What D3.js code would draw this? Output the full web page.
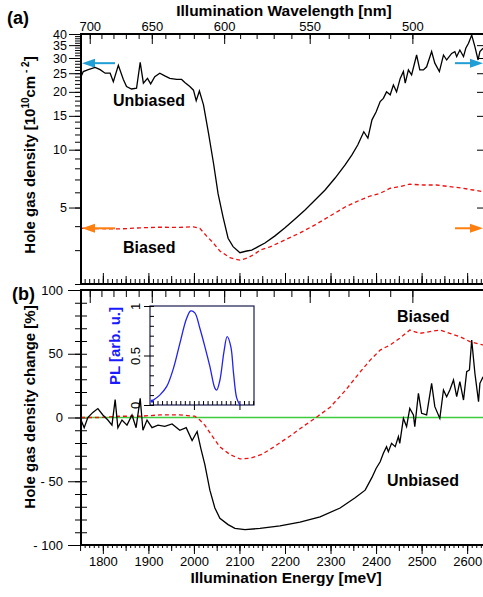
<!DOCTYPE html>
<html>
<head>
<meta charset="utf-8">
<script src="https://cdnjs.cloudflare.com/ajax/libs/d3/7.8.5/d3.min.js"></script>
<style>
  body { margin: 0; background: #fff; }
  svg { display: block; font-family: "Liberation Sans", Arial, sans-serif; }
</style>
</head>
<body>
<div class="chart"></div>
<script>
// panel (a): hole gas density [1e10 cm^-2] vs illumination energy [meV]
var unbiasedEnergy = [1752, 1757, 1768, 1783, 1794, 1805, 1816, 1823, 1834, 1845, 1852, 1863, 1874, 1882, 1889,
  1898, 1905, 1914, 1925, 1936, 1947, 1962, 1973, 1980, 1991, 1999, 2005, 2012, 2021, 2032, 2043, 2053, 2064,
  2075, 2086, 2101, 2116, 2127, 2141, 2156, 2178, 2200, 2222, 2244, 2266, 2288, 2310, 2332, 2347, 2360, 2373,
  2382, 2391, 2400, 2409, 2416, 2423, 2431, 2438, 2445, 2453, 2460, 2464, 2471, 2478, 2489, 2496, 2504, 2511,
  2522, 2529, 2539, 2548, 2555, 2566, 2573, 2577, 2584, 2592, 2597, 2603, 2610, 2617, 2624, 2628, 2635];
var unbiasedDensity = [24.0, 25.5, 26.1, 26.8, 26.1, 25.0, 25.0, 22.6, 27.5, 23.2, 21.3, 20.7, 20.9, 28.5, 22.2,
  23.5, 22.0, 24.0, 25.0, 24.2, 23.5, 23.2, 23.2, 22.4, 21.3, 20.4, 18.0, 20.2, 17.1, 12.2, 8.5, 5.9, 4.46,
  3.46, 3.13, 2.91, 2.97, 3.00, 3.13, 3.27, 3.56, 3.92, 4.36, 4.86, 5.47, 6.17, 7.12, 8.33, 9.39, 10.6, 12.4,
  11.5, 14.3, 15.7, 17.8, 18.5, 20.0, 19.3, 21.7, 20.0, 23.5, 25.5, 22.2, 26.0, 24.5, 31.1, 26.0, 26.0, 27.0,
  32.4, 28.2, 25.5, 31.1, 29.3, 31.7, 32.4, 30.5, 33.0, 30.5, 33.7, 35.8, 39.5, 34.4, 29.3, 32.4, 33.7];

var biasedEnergy = [1752, 1794, 1838, 1882, 1925, 1969, 1999, 2013, 2028, 2043, 2057, 2079, 2101, 2119, 2134,
  2145, 2167, 2200, 2233, 2266, 2299, 2332, 2365, 2387, 2409, 2431, 2452, 2474, 2504, 2533, 2562, 2591, 2613, 2635];
var biasedDensity = [3.90, 3.88, 3.87, 3.92, 3.95, 3.94, 3.97, 3.90, 3.55, 3.26, 2.97, 2.74, 2.66, 2.74, 2.87,
  3.00, 3.12, 3.39, 3.69, 4.06, 4.52, 5.03, 5.47, 5.74, 5.93, 6.30, 6.42, 6.61, 6.55, 6.55, 6.42, 6.30, 6.17, 6.05];

// dark levels marked by the arrows (unbiased, biased)
var darkDensity = [28.2, 3.9];

// panel (b): hole gas density change [%]
var unbiasedChangeEnergy = [1752, 1759, 1767, 1778, 1789, 1800, 1811, 1820, 1827, 1833, 1842, 1853, 1864, 1873,
  1882, 1888, 1897, 1908, 1921, 1936, 1952, 1969, 1983, 1996, 2007, 2015, 2024, 2035, 2046, 2057, 2075, 2090,
  2112, 2145, 2189, 2233, 2277, 2321, 2354, 2376, 2391, 2400, 2409, 2416, 2423, 2427, 2434, 2442, 2449, 2452,
  2460, 2467, 2474, 2482, 2485, 2493, 2500, 2511, 2522, 2529, 2540, 2548, 2555, 2562, 2570, 2577, 2584, 2592,
  2599, 2605, 2610, 2617, 2625, 2628, 2635];
var unbiasedChange = [-2, -8, 0, 4, 7, 2, -2, -6, 14, -8, -2, -6, 2, -8,
  15, -10, -2, -8, -6, -7, -5, -10, -8, -18, -11, -24, -37, -57, -71, -79, -84, -87,
  -88, -87, -85, -82, -78, -71, -63, -57, -47, -40, -34.7, -28.1, -22.9, -26.8, -20.3, -22.9, -15.0, -20.3,
  -0.7, -7.2, 7.2, 2.0, -7.2, 19.0, 3.3, 2.0, 26.8, 8.5, -0.7, 21.6, 16.3, 21.6, 29.4, 16.3, 28.1, 13.7,
  35.9, 37.3, 60.8, 34.7, 12.4, 26.8, 32.0];

var biasedChangeEnergy = [1752, 1794, 1838, 1882, 1925, 1969, 2002, 2013, 2024, 2040, 2057, 2079, 2101, 2123,
  2149, 2178, 2211, 2244, 2272, 2299, 2332, 2365, 2387, 2409, 2431, 2452, 2474, 2496, 2518, 2540, 2562, 2584, 2606, 2635];
var biasedChange = [0, 0, 1, 1, 2, 2, 1, -2, -6, -14.5, -23, -29, -32.5, -32,
  -29, -22.5, -14.5, -6, 1, 8, 21, 35.7, 45, 52.9, 56.9, 62.1, 68.6, 66, 67.3, 68.6, 66, 63.4, 59.5, 56.9];

// inset: photoluminescence spectrum
var plEnergy = [1908, 1925, 1940, 1955, 1969, 1984, 1993, 2002, 2013, 2024, 2035, 2046, 2050, 2057, 2066,
  2073, 2081, 2087, 2094, 2101];
var plIntensity = [0.04, 0.10, 0.185, 0.37, 0.62, 0.876, 0.95, 0.93, 0.775, 0.59, 0.39, 0.17, 0.15, 0.25, 0.54,
  0.69, 0.59, 0.32, 0.07, 0.0];

// tick labels
var densityTicks = [5, 10, 15, 20, 25, 30, 35, 40];
var changeTicks = [-100, -50, 0, 50, 100];
var energyTicks = [1800, 1900, 2000, 2100, 2200, 2300, 2400, 2500, 2600];
var wavelengthTicks = [700, 650, 600, 550, 500];
var plTicks = [0, 0.5, 1];

var svgWidth = 483;
var svgHeight = 597;
var left = 81, right = 484;
var topA = 34, bottomA = 284;
var topB = 290, bottomB = 545;
var hc = 1239842; // meV * nm

var svg = d3.select('.chart')
  .append('svg')
  .attr('width', svgWidth)
  .attr('height', svgHeight);

var x = d3.scaleLinear().domain([1752, 2637]).range([left, right]);
var yA = d3.scaleLog().domain([2, 40]).range([bottomA, topA]);
var yB = d3.scaleLinear().domain([-100, 100]).range([bottomB, topB]);

function strip(g) {
  g.select('.domain').remove();
  g.selectAll('line').attr('stroke', '#000').attr('stroke-width', 1);
  g.selectAll('text').attr('fill', '#000');
  g.attr('font-family', '"Liberation Sans", Arial, sans-serif').attr('font-size', 13);
}

// tick helpers
var minorEnergy = d3.range(1760, 2640, 10);
var midEnergy = d3.range(1750, 2640, 50);
var minorWave = d3.range(500, 720, 10).map(function(w) { return hc / w; })
  .filter(function(e) { return e >= 1752 && e <= 2637; });
var wavelengthEnergy = wavelengthTicks.map(function(w) { return hc / w; });

// ---------- panel (a) ----------
svg.append('defs').append('clipPath').attr('id', 'clipA')
  .append('rect').attr('x', left).attr('y', topA).attr('width', right - left).attr('height', bottomA - topA);
svg.select('defs').append('clipPath').attr('id', 'clipB')
  .append('rect').attr('x', left).attr('y', topB).attr('width', right - left).attr('height', bottomB - topB);

// top wavelength axis with labels
svg.append('g').attr('transform', 'translate(0,' + topA + ')')
  .call(d3.axisTop(x).tickValues(minorWave).tickFormat('').tickSize(-5)).call(strip);
svg.append('g').attr('transform', 'translate(0,' + topA + ')')
  .call(d3.axisTop(x).tickValues(wavelengthEnergy).tickSizeInner(-10).tickSizeOuter(0).tickPadding(3)
    .tickFormat(function(e) { return Math.round(hc / e); }))
  .call(strip);

// bottom edge of (a): energy ticks pointing up
svg.append('g').attr('transform', 'translate(0,' + bottomA + ')')
  .call(d3.axisBottom(x).tickValues(minorEnergy).tickFormat('').tickSize(-5)).call(strip);
svg.append('g').attr('transform', 'translate(0,' + bottomA + ')')
  .call(d3.axisBottom(x).tickValues(midEnergy).tickFormat('').tickSize(-8)).call(strip);
svg.append('g').attr('transform', 'translate(0,' + bottomA + ')')
  .call(d3.axisBottom(x).tickValues(energyTicks).tickFormat('').tickSize(-11)).call(strip);

// left log axis, labels packed tight near the top like the original
svg.append('g').attr('transform', 'translate(' + left + ',0)')
  .call(d3.axisLeft(yA).tickValues(d3.range(2, 41)).tickFormat('').tickSize(6)).call(strip);
svg.append('g').attr('transform', 'translate(' + left + ',0)')
  .call(d3.axisLeft(yA).tickValues(densityTicks).tickSize(12).tickPadding(2).tickFormat(d3.format('d')))
  .call(strip)
  .attr('font-size', 12.5);

// right axis ticks pointing in
svg.append('g').attr('transform', 'translate(' + right + ',0)')
  .call(d3.axisRight(yA).tickValues(densityTicks).tickFormat('').tickSize(-7)).call(strip);

// dark level arrows
function arrow(yv, x0, x1, color) {
  var dir = x1 > x0 ? 1 : -1;
  svg.append('line')
    .attr('x1', x0).attr('x2', x1 - dir * 9)
    .attr('y1', yA(yv)).attr('y2', yA(yv))
    .attr('stroke', color).attr('stroke-width', 2);
  svg.append('path')
    .attr('d', 'M' + x1 + ',' + yA(yv) + 'L' + (x1 - dir * 13) + ',' + (yA(yv) - 4.5) +
      'L' + (x1 - dir * 13) + ',' + (yA(yv) + 4.5) + 'Z')
    .attr('fill', color);
}
arrow(darkDensity[0], 115, left + 1, '#1f9fd5');
arrow(darkDensity[0], 455, right - 1, '#1f9fd5');

var lineA = d3.line()
  .x(function(d) { return x(d[0]); })
  .y(function(d) { return yA(d[1]); });

svg.append('path')
  .datum(d3.zip(unbiasedEnergy, unbiasedDensity))
  .attr('clip-path', 'url(#clipA)')
  .attr('d', lineA)
  .attr('fill', 'none').attr('stroke', '#000').attr('stroke-width', 1.3);

svg.append('path')
  .datum(d3.zip(biasedEnergy, biasedDensity))
  .attr('clip-path', 'url(#clipA)')
  .attr('d', lineA)
  .attr('fill', 'none').attr('stroke', '#f01010').attr('stroke-width', 1.3)
  .attr('stroke-dasharray', '4,3');

arrow(darkDensity[1], 115, left + 1, '#ff7f0e');
arrow(darkDensity[1], 455, right - 1, '#ff7f0e');

svg.append('rect')
  .attr('x', left).attr('y', topA).attr('width', right - left).attr('height', bottomA - topA)
  .attr('fill', 'none').attr('stroke', '#000').attr('stroke-width', 2);

svg.append('text').attr('x', 113).attr('y', 106).attr('font-size', 16).attr('font-weight', 'bold')
  .text('Unbiased');
svg.append('text').attr('x', 123).attr('y', 253).attr('font-size', 16).attr('font-weight', 'bold')
  .text('Biased');

// ---------- panel (b) ----------
svg.append('g').attr('transform', 'translate(0,' + topB + ')')
  .call(d3.axisTop(x).tickValues(minorWave).tickFormat('').tickSize(-7)).call(strip);
svg.append('g').attr('transform', 'translate(0,' + topB + ')')
  .call(d3.axisTop(x).tickValues(wavelengthEnergy).tickFormat('').tickSize(-13)).call(strip);

svg.append('g').attr('transform', 'translate(0,' + bottomB + ')')
  .call(d3.axisBottom(x).tickValues(minorEnergy).tickFormat('').tickSize(3)).call(strip);
svg.append('g').attr('transform', 'translate(0,' + bottomB + ')')
  .call(d3.axisBottom(x).tickValues(midEnergy).tickFormat('').tickSize(6)).call(strip);
svg.append('g').attr('transform', 'translate(0,' + bottomB + ')')
  .call(d3.axisBottom(x).tickValues(energyTicks).tickSize(9).tickPadding(3).tickFormat(d3.format('d')))
  .call(strip);

var minorChange = d3.range(-100, 101, 10);
svg.append('g').attr('transform', 'translate(' + left + ',0)')
  .call(d3.axisLeft(yB).tickValues(minorChange).tickFormat('').tickSize(6)).call(strip);
svg.append('g').attr('transform', 'translate(' + left + ',0)')
  .call(d3.axisLeft(yB).tickValues(minorChange).tickFormat('').tickSize(-6)).call(strip);
svg.append('g').attr('transform', 'translate(' + left + ',0)')
  .call(d3.axisLeft(yB).tickValues(changeTicks).tickSize(13).tickPadding(5)
    .tickFormat(function(d) { return d < 0 ? '- ' + Math.abs(d) : d; }))
  .call(strip);

// zero line
svg.append('line')
  .attr('x1', left).attr('x2', right).attr('y1', yB(0)).attr('y2', yB(0))
  .attr('stroke', '#3ccc3c').attr('stroke-width', 1.3);

var lineB = d3.line()
  .x(function(d) { return x(d[0]); })
  .y(function(d) { return yB(d[1]); });

svg.append('path')
  .datum(d3.zip(biasedChangeEnergy, biasedChange))
  .attr('clip-path', 'url(#clipB)')
  .attr('d', lineB)
  .attr('fill', 'none').attr('stroke', '#f01010').attr('stroke-width', 1.3)
  .attr('stroke-dasharray', '4,3');

svg.append('path')
  .datum(d3.zip(unbiasedChangeEnergy, unbiasedChange))
  .attr('clip-path', 'url(#clipB)')
  .attr('d', lineB)
  .attr('fill', 'none').attr('stroke', '#000').attr('stroke-width', 1.3);

svg.append('rect')
  .attr('x', left).attr('y', topB).attr('width', right - left).attr('height', bottomB - topB)
  .attr('fill', 'none').attr('stroke', '#000').attr('stroke-width', 2);

svg.append('text').attr('x', 397).attr('y', 322).attr('font-size', 16).attr('font-weight', 'bold')
  .text('Biased');
svg.append('text').attr('x', 387).attr('y', 486).attr('font-size', 16).attr('font-weight', 'bold')
  .text('Unbiased');

// ---------- inset ----------
var inL = 150, inR = 254, inT = 306, inB = 405;
var xIn = d3.scaleLinear().domain([x.invert(inL), x.invert(inR)]).range([inL, inR]);
var yIn = d3.scaleLinear().domain([0, 1]).range([inB, inT]);

svg.append('rect')
  .attr('x', inL).attr('y', inT).attr('width', inR - inL).attr('height', inB - inT)
  .attr('fill', '#fff').attr('stroke', '#1c1c50').attr('stroke-width', 1.2);

svg.append('g').attr('transform', 'translate(0,' + inB + ')')
  .call(d3.axisBottom(xIn).tickValues(d3.range(1910, 2131, 10)).tickFormat('').tickSize(-4)).call(strip);
svg.append('g').attr('transform', 'translate(0,' + inB + ')')
  .call(d3.axisBottom(xIn).tickValues([2000, 2100]).tickFormat('').tickSize(5)).call(strip);
svg.append('g').attr('transform', 'translate(' + inL + ',0)')
  .call(d3.axisLeft(yIn).tickValues(d3.range(0, 1.01, 0.1)).tickFormat('').tickSize(-4)).call(strip);
var plAxis = svg.append('g').attr('transform', 'translate(' + inL + ',0)')
  .call(d3.axisLeft(yIn).tickValues(plTicks).tickSize(6).tickPadding(0).tickFormat(d3.format('')))
  .call(strip);
plAxis.selectAll('.tick text')
  .attr('transform', 'translate(-10,0) rotate(-90)')
  .attr('x', 0).attr('y', 0).attr('dy', 0)
  .attr('text-anchor', 'middle')
  .attr('font-size', 13);

svg.append('path')
  .datum(d3.zip(plEnergy, plIntensity))
  .attr('d', d3.line().curve(d3.curveCatmullRom)
    .x(function(d) { return xIn(d[0]); })
    .y(function(d) { return yIn(d[1]); }))
  .attr('fill', 'none').attr('stroke', '#2222ee').attr('stroke-width', 1.3);
svg.append('circle').attr('cx', xIn(plEnergy[0])).attr('cy', yIn(plIntensity[0])).attr('r', 1.6)
  .attr('fill', '#2222ee');

svg.append('text')
  .attr('transform', 'translate(120,346) rotate(-90)')
  .attr('text-anchor', 'middle')
  .attr('font-size', 15).attr('font-weight', 'bold').attr('fill', '#1a1aff')
  .text('PL [arb. u.]');

// ---------- titles ----------
svg.append('text').attr('x', 284).attr('y', 16).attr('text-anchor', 'middle')
  .attr('font-size', 15.5).attr('font-weight', 'bold')
  .text('Illumination Wavelength [nm]');
svg.append('text').attr('x', 286).attr('y', 583).attr('text-anchor', 'middle')
  .attr('font-size', 15.5).attr('font-weight', 'bold')
  .text('Illumination Energy [meV]');

var titleA = svg.append('text')
  .attr('transform', 'translate(35,155) rotate(-90)')
  .attr('text-anchor', 'middle')
  .attr('font-size', 15).attr('font-weight', 'bold');
titleA.append('tspan').text('Hole gas density [10');
titleA.append('tspan').attr('font-size', 10).attr('dy', -6).text('10');
titleA.append('tspan').attr('dy', 6).text('cm');
titleA.append('tspan').attr('font-size', 10).attr('dy', -6).text(' - 2');
titleA.append('tspan').attr('dy', 6).text(']');

svg.append('text')
  .attr('transform', 'translate(35,407) rotate(-90)')
  .attr('text-anchor', 'middle')
  .attr('font-size', 15).attr('font-weight', 'bold')
  .text('Hole gas density change [%]');

svg.append('text').attr('x', 7).attr('y', 24).attr('font-size', 18).attr('font-weight', 'bold').text('(a)');
svg.append('text').attr('x', 12).attr('y', 300).attr('font-size', 18).attr('font-weight', 'bold').text('(b)');
</script>
</body>
</html>
